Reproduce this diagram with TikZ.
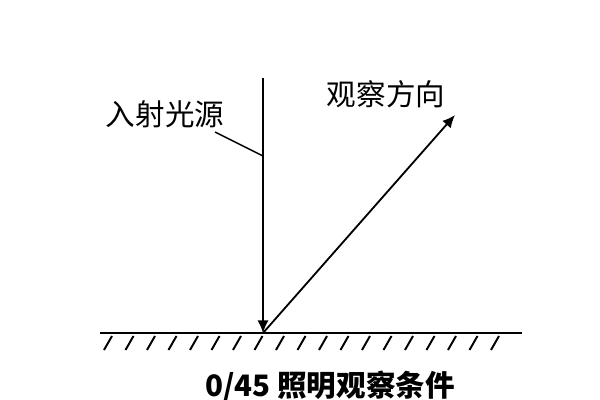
\documentclass[tikz,border=0pt]{standalone}
\usepackage{fontspec}
\newfontfamily\cjk{Noto Sans CJK SC}
\usetikzlibrary{arrows.meta}
\tikzset{ray/.style={line width=1.3pt,-{Latex[length=9pt,width=8pt]}},
  hatch/.style={line width=1.4pt},
  lbl/.style={font=\cjk\fontsize{21}{25}\selectfont,inner sep=0pt}}

\begin{document}
\begin{tikzpicture}[x=0.025cm,y=-0.025cm]
  \useasboundingbox (0,0) rectangle (600,400);
  % surface
  \coordinate (sl) at (100,333);
  \coordinate (sr) at (522,333);
  \draw[line width=1.3pt] (sl) -- (sr);
  \foreach \i in {0,...,18}
    \draw[hatch] ({112+21.5*\i},336) -- ++(-8,14);
  % rays
  \coordinate (top) at (263,78);
  \coordinate (hit) at (263,333);
  \coordinate (eye) at (455,115);
  \draw[ray] (top) -- (hit);
  \draw[ray] (hit) -- (eye);
  % labels
  \node[lbl] (src) at (165,114) {入射光源};
  \node[lbl] (dir) at (386,94) {观察方向};
  \coordinate (lead) at (215,132);
  \coordinate (tap) at (263,156);
  \draw[line width=1.1pt] (lead) -- (tap);
  \node[lbl,font=\cjk\bfseries\fontsize{21}{25}\selectfont] (cap) at (330,386) {0/45 照明观察条件};
\end{tikzpicture}
\end{document}
